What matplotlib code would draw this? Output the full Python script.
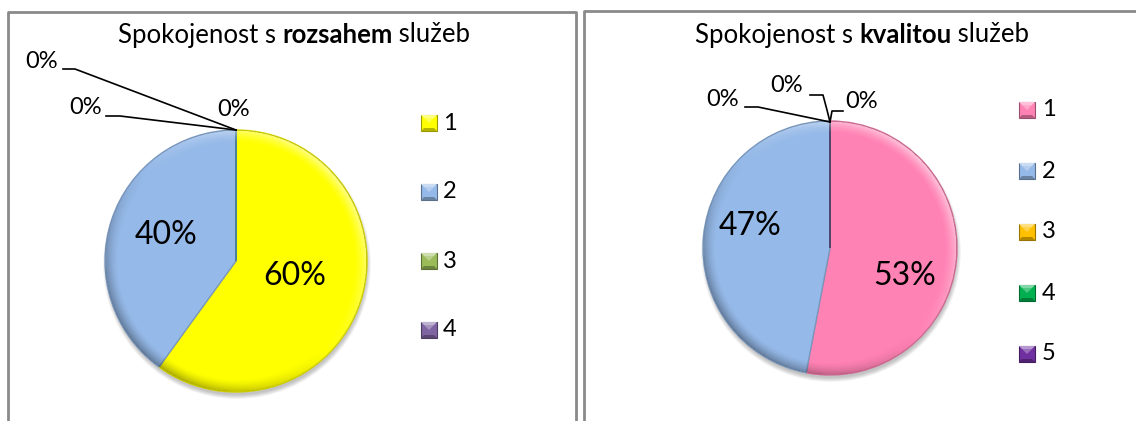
import matplotlib
matplotlib.use("Agg")
import numpy as np
import matplotlib.pyplot as plt
import matplotlib.colors as mc
from matplotlib.patches import Rectangle, Ellipse, Circle, Polygon

plt.rcParams['font.family'] = ['Lato', 'DejaVu Sans']

# ---- data ----
left_title = ("Spokojenost s ", "rozsahem", " služeb")
left_categories = ["1", "2", "3", "4", "5"]
left_values = [60, 40, 0, 0, 0]
left_legend_count = 4
left_colors = ["#FFFF00", "#95B9E8", "#9BBB59", "#8064A2", "#4BACC6"]

right_title = ("Spokojenost s ", "kvalitou", " služeb")
right_categories = ["1", "2", "3", "4", "5"]
right_values = [53, 47, 0, 0, 0]
right_colors = ["#FF82B4", "#95B9E8", "#FFC000", "#00B050", "#7030A0"]

W, H = 1136, 421
fig = plt.figure(figsize=(W / 100, H / 100), dpi=100)
ax = fig.add_axes([0, 0, 1, 1])

SMALL = 17
BIG = 23
TITLE = 18.5


def Y(py):
    return H - py


def darker(c, f=0.75):
    r, g, b = mc.to_rgb(c)
    return (r * f, g * f, b * f)


def lighter(c, f=0.45):
    r, g, b = mc.to_rgb(c)
    return (r + (1 - r) * f, g + (1 - g) * f, b + (1 - b) * f)


def draw_pie(values, colors, cx, cy, r):
    # soft shadow
    for i in range(8):
        ax.add_patch(Ellipse((cx + 1, Y(cy) - 4), 2 * (r + 3 - i * 0.6), 2 * (r + 3 - i * 0.6),
                             facecolor="black", alpha=0.03, edgecolor="none", zorder=1))
    wedges, _ = ax.pie(values, colors=colors, startangle=90, counterclock=False,
                       center=(cx, Y(cy)), radius=r,
                       wedgeprops=dict(linewidth=1.0, edgecolor="none"))
    for w, c in zip(wedges, colors):
        w.set_edgecolor(darker(c, 0.82))
        w.set_zorder(2)
    # bevel shading on the rim (decoration)
    n = 400
    xs = np.linspace(-1, 1, n)
    X, Yg = np.meshgrid(xs, xs)
    R = np.sqrt(X ** 2 + Yg ** 2)
    rim = np.clip((R - 0.90) / 0.10, 0, 1)
    ang = np.arctan2(Yg, X)
    s = np.sin(ang + np.pi / 4)  # +1 towards top-left
    rgba = np.zeros((n, n, 4))
    light = s > 0
    rgba[..., :3] = np.where(light[..., None], 1.0, 0.0)
    rgba[..., 3] = rim ** 1.5 * np.abs(s) * np.where(light, 0.55, 0.35)
    rgba[R > 1] = 0
    im = ax.imshow(rgba, extent=(cx - r, cx + r, Y(cy) - r, Y(cy) + r), origin="lower",
                   zorder=2.5, interpolation="bilinear")
    im.set_clip_path(Circle((cx, Y(cy)), r, transform=ax.transData))
    return wedges


def pct(v, vals):
    return f"{round(100 * v / sum(vals))}%"


def title(parts, cx, cy, size=TITLE):
    fig.canvas.draw()
    r = fig.canvas.get_renderer()
    ts = []
    for i, p in enumerate(parts):
        t = ax.text(0, 0, p, fontsize=size, fontweight="bold" if i == 1 else "normal",
                    va="center", ha="left")
        ts.append(t)
    widths = [t.get_window_extent(r).width for t in ts]
    total = sum(widths)
    x = cx - total / 2
    for t, w in zip(ts, widths):
        t.set_position((x, Y(cy)))
        x += w


def legend_marker(x, yc, color, s=16):
    y0 = Y(yc) - s / 2
    ax.add_patch(Rectangle((x, y0), s, s, facecolor=color, edgecolor=darker(color, 0.6),
                           lw=0.8, zorder=3))
    b = 3
    ax.add_patch(Polygon([(x, y0 + s), (x + s, y0 + s), (x + s - b, y0 + s - b), (x + b, y0 + s - b)],
                         closed=True, facecolor=lighter(color, 0.5), edgecolor="none", zorder=3.1))
    ax.add_patch(Polygon([(x, y0), (x + s, y0), (x + s - b, y0 + b), (x + b, y0 + b)],
                         closed=True, facecolor=darker(color, 0.7), edgecolor="none", zorder=3.1))
    ax.add_patch(Polygon([(x + b, y0 + s - b), (x + s - b, y0 + s - b), (x + s / 2, y0 + s / 2)],
                         closed=True, facecolor=lighter(color, 0.3), edgecolor="none", zorder=3.1))


# panel borders
ax.plot([8, 8, 576, 576], [Y(430), Y(12), Y(12), Y(430)], color="#8a8a8a", lw=2, zorder=0)
ax.plot([584, 584, 1140], [Y(430), Y(11), Y(11)], color="#8a8a8a", lw=2, zorder=0)

# ---- left pie ----
lw = draw_pie(left_values, left_colors, 236, 261, 131)
ax.text(166, Y(235), pct(left_values[1], left_values), fontsize=BIG, ha="center", va="center")
ax.text(295, Y(276), pct(left_values[0], left_values), fontsize=BIG, ha="center", va="center")
ax.text(42, Y(62), pct(left_values[4], left_values), fontsize=SMALL, ha="center", va="center")
ax.text(86, Y(108), pct(left_values[3], left_values), fontsize=SMALL, ha="center", va="center")
ax.text(234, Y(110), pct(left_values[2], left_values), fontsize=SMALL, ha="center", va="center")
ax.plot([63, 75, 236], [Y(69), Y(69), Y(130)], color="black", lw=1.2, zorder=3)
ax.plot([106, 120, 236], [Y(116), Y(116), Y(130)], color="black", lw=1.2, zorder=3)

for i in range(left_legend_count):
    yy = 123 + i * 69
    legend_marker(421, yy, left_colors[i])
    ax.text(443, Y(yy), left_categories[i], fontsize=SMALL, ha="left", va="center")

title(left_title, 294, 35)

# ---- right pie ----
rw = draw_pie(right_values, right_colors, 830, 248, 127)
ax.text(750, Y(226), pct(right_values[1], right_values), fontsize=BIG, ha="center", va="center")
ax.text(905, Y(276), pct(right_values[0], right_values), fontsize=BIG, ha="center", va="center")
ax.text(723, Y(99), pct(right_values[2], right_values), fontsize=SMALL, ha="center", va="center")
ax.text(787, Y(86), pct(right_values[3], right_values), fontsize=SMALL, ha="center", va="center")
ax.text(862, Y(102), pct(right_values[4], right_values), fontsize=SMALL, ha="center", va="center")
ax.plot([745, 758, 830], [Y(107), Y(107), Y(122)], color="black", lw=1.2, zorder=3)
ax.plot([810, 823, 827, 830], [Y(95), Y(95), Y(110), Y(122)], color="black", lw=1.2, zorder=3)
ax.plot([843, 832, 830], [Y(111), Y(111), Y(122)], color="black", lw=1.2, zorder=3)

for i in range(len(right_categories)):
    yy = 110 + i * 61
    legend_marker(1019, yy, right_colors[i])
    ax.text(1042, Y(yy), right_categories[i], fontsize=SMALL, ha="left", va="center")

title(right_title, 862, 35)

ax.set_xlim(0, W)
ax.set_ylim(0, H)
ax.set_aspect("equal")
ax.axis("off")
fig.savefig("out.png", dpi=100)
